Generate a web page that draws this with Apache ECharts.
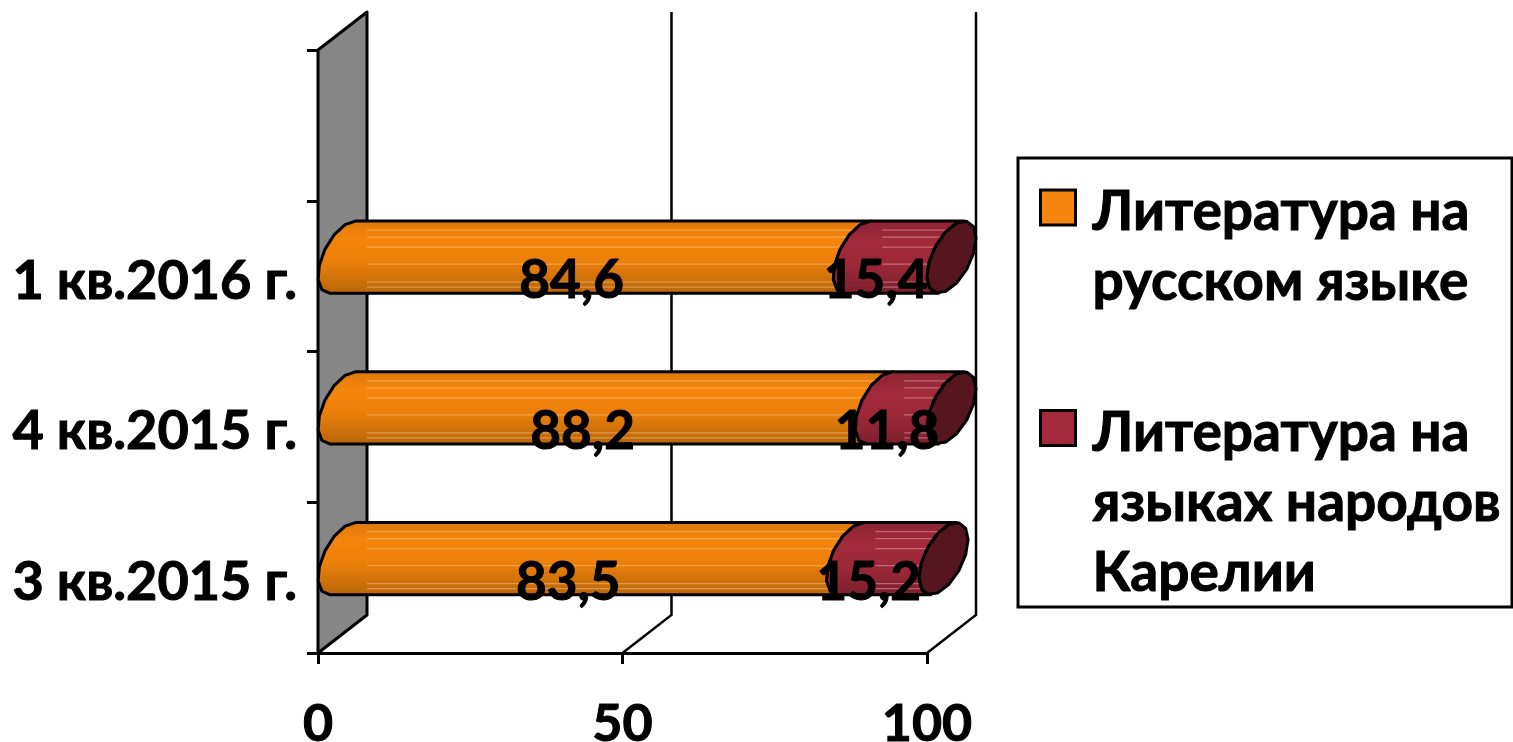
<!DOCTYPE html>
<html><head><meta charset="utf-8">
<style>html,body{margin:0;padding:0;background:#fff}#c{width:1513px;height:742px}</style>
<script src="https://cdn.jsdelivr.net/npm/echarts@6/dist/echarts.min.js"></script>
</head><body><div id="c"></div>
<script>
const categories = ['3 кв.2015 г.', '4 кв.2015 г.', '1 кв.2016 г.', ''];
const russianValues = [83.5, 88.2, 84.6];
const nativeValues = [15.2, 11.8, 15.4];
const russianLabels = ['83,5', '88,2', '84,6'];
const nativeLabels = ['15,2', '11,8', '15,4'];
const xTicks = [0, 50, 100];
const seriesNames = ['Литература на русском языке', 'Литература на языках народов Карелии'];
const legendLines = {
  'Литература на русском языке': '{g| }\n{t|Литература на}\n{t|русском языке}',
  'Литература на языках народов Карелии': '{g| }\n{b| }\n{t|Литература на}\n{t|языках народов}\n{t|Карелии}'
};
const FONT = 'Lato, "Open Sans", sans-serif';
const DX = 49, DY = -38, HALF_H = 30.6;
const PHI = Math.atan2(HALF_H, -DY / 2);
const STREAKS = [-27, -20, -10, 7, 25, 30];
const heavy = { textBorderColor: '#000', textBorderWidth: 1 };
const boldText = size => Object.assign({ fontFamily: FONT, fontWeight: 'bold', fontSize: size, color: '#000' }, heavy);

function ellipsePt(cx, cy, t) {
  return [cx + Math.cos(t) * DX / 2, cy + Math.cos(t) * DY / 2 - Math.sin(t) * HALF_H];
}
function arc(cx, cy, from, to, n) {
  const pts = [];
  for (let i = 0; i <= n; i++) pts.push(ellipsePt(cx, cy, from + (to - from) * i / n));
  return pts;
}
function arcX(cx, dy) {
  const R = Math.hypot(DY / 2, HALF_H);
  const a = Math.acos(Math.max(-1, Math.min(1, -dy / R)));
  return cx + Math.min(Math.cos(PHI + a), Math.cos(PHI - a)) * DX / 2;
}
function cylinder(fill, streak, withCap) {
  return function (params, api) {
    const s = api.value(0), e = api.value(1), cat = api.value(2);
    const p0 = api.coord([s, cat]), p1 = api.coord([e, cat]);
    const cy = p0[1] + DY / 2;
    const cx0 = p0[0] + DX / 2, cx1 = p1[0] + DX / 2;
    const pts = arc(cx0, cy, PHI, PHI + Math.PI, 7).concat(arc(cx1, cy, PHI + Math.PI, PHI, 7));
    const ch = [{ type: 'polygon', shape: { points: pts }, style: { fill: fill, stroke: '#000', lineWidth: 3, lineJoin: 'round' } }];
    STREAKS.forEach(d => {
      const xa = p0[0] + DX, xb = arcX(cx1, d);
      if (xb > xa) ch.push({ type: 'line', shape: { x1: xa, y1: cy + d, x2: xb, y2: cy + d }, style: { stroke: streak, lineWidth: 1.2 } });
    });
    if (withCap) ch.push({ type: 'polygon', shape: { points: arc(cx1, cy, 0, Math.PI * 2, 14) }, style: { fill: '#56161f', stroke: '#000', lineWidth: 3, lineJoin: 'round' } });
    const mid = api.coord([(s + e) / 2, cat]);
    ch.push({ type: 'text', z2: 50, style: { text: api.value(3), x: mid[0] - 4, y: mid[1] + 5, fill: '#000', stroke: '#000', lineWidth: 1, font: 'bold 53px ' + FONT, textAlign: 'center', textVerticalAlign: 'middle' } });
    return { type: 'group', children: ch };
  };
}
function wall(params, api) {
  const v = api.value(0);
  const band = api.size([0, 1])[1];
  const p0 = api.coord([v, 0]), pN = api.coord([v, categories.length - 1]);
  const b = [p0[0], p0[1] + band / 2], t = [pN[0], pN[1] - band / 2];
  if (v === 0) {
    return { type: 'polygon', shape: { points: [b, [b[0] + DX, b[1] + DY], [t[0] + DX, t[1] + DY], t] }, style: { fill: '#868686', stroke: '#000', lineWidth: 3, lineJoin: 'round' } };
  }
  return { type: 'polyline', shape: { points: [b, [b[0] + DX, b[1] + DY], [t[0] + DX, t[1] + DY]] }, style: { fill: 'none', stroke: '#000', lineWidth: 2.5 } };
}
const grad = stops => ({ type: 'linear', x: 0, y: 0, x2: 0, y2: 1, colorStops: stops.map(c => ({ offset: c[0], color: c[1] })) });
const orange = grad([[0, '#dd780a'], [0.25, '#f5850c'], [0.55, '#ec800a'], [1, '#b8650a']]);
const red = grad([[0, '#8a2333'], [0.3, '#a32a3b'], [0.6, '#9c283a'], [1, '#7c1f2d']]);

const chart = echarts.init(document.getElementById('c'), null, { renderer: 'canvas' });
chart.setOption({
  animation: false,
  backgroundColor: '#fff',
  grid: { left: 318, right: 586, top: 50, bottom: 89, containLabel: false, outerBoundsMode: 'none' },
  graphic: [{ type: 'rect', z: 0, shape: { x: 1018, y: 158, width: 494, height: 449 }, style: { fill: '#fff', stroke: '#000', lineWidth: 3 } }],
  legend: {
    orient: 'vertical', left: 1039, top: 132, padding: 0, itemGap: -28, itemWidth: 35, itemHeight: 35,
    selectedMode: false,
    data: [{ name: seriesNames[0], icon: 'rect' }, { name: seriesNames[1], icon: 'rect' }],
    itemStyle: { borderColor: '#000', borderWidth: 3 },
    formatter: n => legendLines[n],
    textStyle: Object.assign(boldText(55), {
      padding: [0, 0, 0, 12],
      rich: {
        g: { fontSize: 10, lineHeight: 80 },
        b: { fontSize: 10, lineHeight: 70 },
        t: Object.assign(boldText(55), { lineHeight: 70 })
      }
    })
  },
  xAxis: {
    type: 'value', min: 0, max: 100, interval: 50, splitLine: { show: false },
    axisLine: { show: true, lineStyle: { color: '#000', width: 3 } },
    axisTick: { show: true, length: 11, lineStyle: { color: '#000', width: 3 } },
    axisLabel: Object.assign(boldText(52), { margin: 45, hideOverlap: false, showMinLabel: true, showMaxLabel: true })
  },
  yAxis: {
    type: 'category', data: categories, boundaryGap: true,
    axisLine: { show: true, lineStyle: { color: '#000', width: 3 } },
    axisTick: { show: true, length: 11, alignWithLabel: false, lineStyle: { color: '#000', width: 3 } },
    axisLabel: Object.assign(boldText(54), {
      margin: 21, interval: 0,
      formatter: v => v ? '{g| }\n{t|' + v + '}' : '',
      rich: {
        g: { fontSize: 8, lineHeight: 10 },
        t: Object.assign(boldText(54), { lineHeight: 60 })
      }
    })
  },
  series: [
    { type: 'custom', name: 'wall', z: 1, silent: true, renderItem: wall, data: xTicks.map(v => [v]), encode: { x: 0 } },
    { type: 'custom', name: seriesNames[0], z: 3, itemStyle: { color: '#f5850c' }, renderItem: cylinder(orange, 'rgba(255,215,170,.4)', false),
      data: russianValues.map((v, i) => [0, v, i, russianLabels[i]]), encode: { x: [0, 1], y: 2 } },
    { type: 'custom', name: seriesNames[1], z: 4, itemStyle: { color: '#a32a3b' }, renderItem: cylinder(red, 'rgba(255,200,205,.4)', true),
      data: nativeValues.map((v, i) => [russianValues[i], russianValues[i] + v, i, nativeLabels[i]]), encode: { x: [0, 1], y: 2 } }
  ]
});
</script></body></html>
